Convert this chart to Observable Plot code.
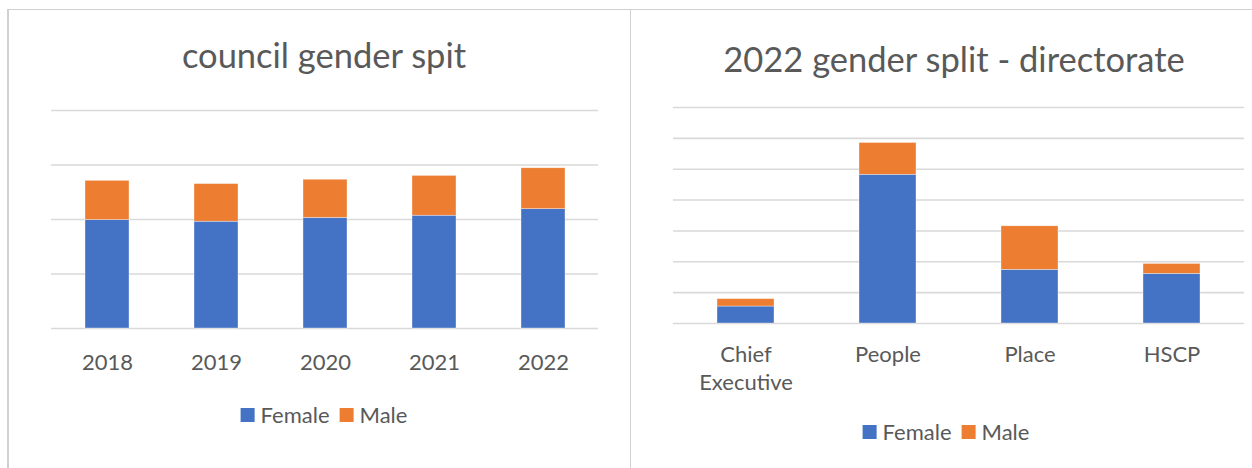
<!DOCTYPE html>
<html><head><meta charset="utf-8">
<script src="https://cdn.jsdelivr.net/npm/d3@7"></script>
<script src="https://cdn.jsdelivr.net/npm/@observablehq/plot@0.6"></script>
<style>
html,body{margin:0;padding:0;background:#fff}
body{width:1252px;height:468px;overflow:hidden;position:relative;font-family:Lato,"Open Sans",sans-serif;color:#595959}
.panel{position:absolute;top:0}
.legend{position:absolute;transform:translateX(-50%);display:flex;align-items:center;font-size:22px;line-height:1;white-space:nowrap;color:#595959}
.legend .item{display:flex;align-items:center;margin:0 10px 0 0}
.legend .sw{display:inline-block;width:14px;height:14px;margin-right:6px}
.hline{position:absolute;left:8px;top:9px;width:1244px;height:1px;background:#d0d0d0;z-index:5}
.vline{position:absolute;top:9px;bottom:0;background:#d0d0d0;z-index:5}
</style>
</head><body>
<div id="left" class="panel" style="left:0"></div>
<div id="right" class="panel" style="left:630px"></div>
<div id="legL" class="legend" style="left:329px;top:404px"></div>
<div id="legR" class="legend" style="left:951px;top:421px"></div>
<div class="hline"></div>
<div class="vline" style="left:7px;width:2px"></div>
<div class="vline" style="left:630px;width:1px"></div>
<script>
// ---- data ----
const genders = ["Female", "Male"];
const genderColors = ["#4472C4", "#ED7D31"];

const leftTitle = "council gender spit";
const years = ["2018", "2019", "2020", "2021", "2022"];
const councilFemale = [3980, 3920, 4060, 4140, 4380];
const councilMale = [1440, 1380, 1400, 1460, 1500];
const councilTicks = [0, 2000, 4000, 6000, 8000];

const rightTitle = "2022 gender split - directorate";
const directorates = ["Chief Executive", "People", "Place", "HSCP"];
const directorateLabels = ["Chief\nExecutive", "People", "Place", "HSCP"];
const dirFemale = [275, 2410, 870, 805];
const dirMale = [120, 515, 705, 160];
const dirTicks = [0, 500, 1000, 1500, 2000, 2500, 3000, 3500];

// ---- tables ----
const councilRows = [];
years.forEach((y, i) => {
  councilRows.push({cat: y, gender: genders[0], value: councilFemale[i]});
  councilRows.push({cat: y, gender: genders[1], value: councilMale[i]});
});
const dirRows = [];
directorates.forEach((d, i) => {
  dirRows.push({cat: d, gender: genders[0], value: dirFemale[i]});
  dirRows.push({cat: d, gender: genders[1], value: dirMale[i]});
});

const textColor = "#595959";
const gridColor = "#d9d9d9";

function chart({rows, cats, labels, ticks, title, width, height, mL, mR, mT, mB, titleDx, titleDy, tickPad}) {
  const labelOf = new Map(cats.map((c, i) => [c, labels[i]]));
  return Plot.plot({
    width, height,
    marginLeft: mL, marginRight: mR, marginTop: mT, marginBottom: mB,
    style: {fontFamily: "Lato, 'Open Sans', sans-serif", color: textColor, background: "transparent", overflow: "visible"},
    x: {type: "band", domain: cats, paddingInner: 0.6, paddingOuter: 0.3, axis: null, label: null},
    y: {domain: [ticks[0], ticks[ticks.length - 1]], axis: null, label: null},
    color: {domain: genders, range: genderColors},
    marks: [
      Plot.gridY(ticks, {stroke: gridColor, strokeOpacity: 1, strokeWidth: 1.6}),
      Plot.barY(rows, {x: "cat", y: "value", fill: "gender", stroke: "#ffffff", strokeWidth: 0.6, strokeOpacity: 0.6}),
      Plot.axisX({tickSize: 0, tickPadding: tickPad, fontSize: 22, fill: textColor, lineHeight: 1.27, label: null,
                  tickFormat: d => labelOf.get(d)}),
      Plot.text([title], {frameAnchor: "top", lineAnchor: "bottom", dx: titleDx, dy: titleDy, fontSize: 34.5, fill: textColor})
    ]
  });
}

document.getElementById("left").append(chart({
  rows: councilRows, cats: years, labels: years, ticks: councilTicks, title: leftTitle,
  width: 630, height: 390, mL: 51, mR: 32, mT: 110, mB: 62, titleDx: -1, titleDy: -43, tickPad: 22
}));
document.getElementById("right").append(chart({
  rows: dirRows, cats: directorates, labels: directorateLabels, ticks: dirTicks, title: rightTitle,
  width: 622, height: 410, mL: 43, mR: 8, mT: 107, mB: 87, titleDx: -5, titleDy: -36, tickPad: 19
}));

function legend(id) {
  const el = document.getElementById(id);
  genders.forEach((g, i) => {
    const item = document.createElement("span");
    item.className = "item";
    const sw = document.createElement("span");
    sw.className = "sw";
    sw.style.background = genderColors[i];
    const t = document.createElement("span");
    t.textContent = g;
    item.append(sw, t);
    el.append(item);
  });
}
legend("legL");
legend("legR");
</script>
</body></html>
